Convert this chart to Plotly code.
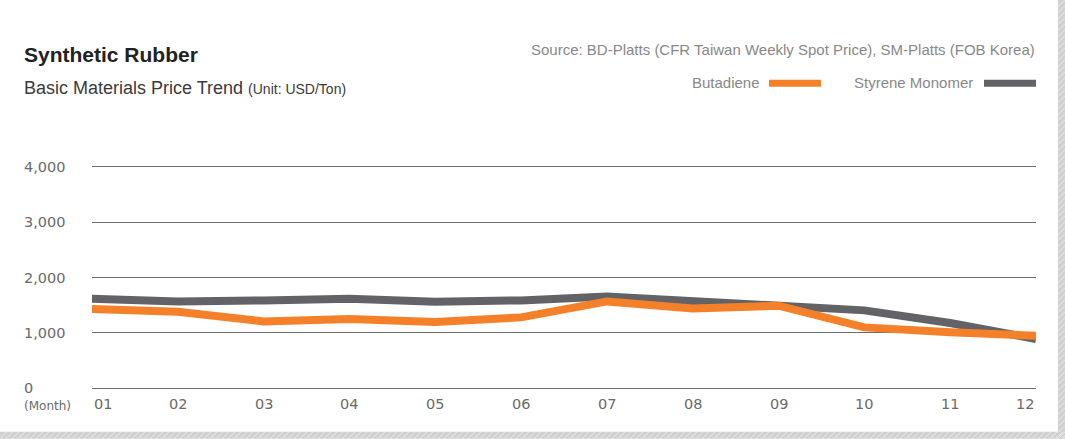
import plotly.graph_objects as go

# data (USD/Ton)
months = ['01', '02', '03', '04', '05', '06', '07', '08', '09', '10', '11', '12']
butadiene = [1430, 1381, 1205, 1249, 1195, 1278, 1567, 1441, 1490, 1097, 1007, 947]
styrene = [1616, 1567, 1585, 1616, 1562, 1585, 1658, 1567, 1477, 1405, 1176, 887]
y_ticks = [0, 1000, 2000, 3000, 4000]
y_tick_text = ['0', '1,000', '2,000', '3,000', '4,000']

W, H = 1065, 439
L, R, T, B = 92, 1036, 167.3, 388.3  # plot area in pixels

ORANGE = '#f4812a'
GREY = '#626366'
TXT = '#6a6a6a'
FONT = 'Liberation Sans'
NUMFONT = 'DejaVu Sans'


def px(x):
    return (x - L) / (R - L)


def py(y):
    return (B - y) / (B - T)


fig = go.Figure()

# Styrene under, Butadiene on top
fig.add_trace(go.Scatter(x=list(range(len(months))), y=styrene, mode='lines', name='Styrene Monomer',
                         line=dict(color=GREY, width=8), showlegend=False))
fig.add_trace(go.Scatter(x=list(range(len(months))), y=butadiene, mode='lines', name='Butadiene',
                         line=dict(color=ORANGE, width=8), showlegend=False))

annotations = []
# title block
annotations.append(dict(text='<b>Synthetic Rubber</b>', x=px(22), y=py(55), xanchor='left', yanchor='middle',
                        font=dict(size=21, color='#222222', family=FONT)))
annotations.append(dict(text='Basic Materials Price Trend <span style="font-size:14px">(Unit: USD/Ton)</span>',
                        x=px(22), y=py(88), xanchor='left', yanchor='middle',
                        font=dict(size=18, color='#3a3a3a', family=FONT)))
annotations.append(dict(text='Source: BD-Platts (CFR Taiwan Weekly Spot Price), SM-Platts (FOB Korea)',
                        x=px(1037), y=py(50), xanchor='right', yanchor='middle',
                        font=dict(size=15, color='#888888', family=FONT)))
# legend (text left of swatch)
annotations.append(dict(text='Butadiene', x=px(762), y=py(83), xanchor='right', yanchor='middle',
                        font=dict(size=15, color='#888888', family=FONT)))
annotations.append(dict(text='Styrene Monomer', x=px(975), y=py(83), xanchor='right', yanchor='middle',
                        font=dict(size=15, color='#888888', family=FONT)))

# y tick labels, left aligned
for v, t in zip(y_ticks, y_tick_text):
    annotations.append(dict(text=t, x=px(22), y=v, yref='y', xanchor='left', yanchor='middle',
                            font=dict(size=14.5, color=TXT, family=NUMFONT)))
annotations.append(dict(text='(Month)', x=px(22), y=py(406), xanchor='left', yanchor='middle',
                        font=dict(size=12, color=TXT, family=NUMFONT)))

# month labels: first left aligned, last right aligned
for i, m in enumerate(months):
    anchor = 'left' if i == 0 else ('right' if i == len(months) - 1 else 'center')
    annotations.append(dict(text=m, x=i, xref='x', y=py(404), xanchor=anchor, yanchor='middle',
                            font=dict(size=14.5, color=TXT, family=NUMFONT)))

for a in annotations:
    a.setdefault('xref', 'paper')
    a.setdefault('yref', 'paper')
    a['showarrow'] = False

shapes = [
    dict(type='rect', xref='paper', yref='paper', x0=px(769), x1=px(821), y0=py(80), y1=py(87),
         fillcolor=ORANGE, line=dict(width=0)),
    dict(type='rect', xref='paper', yref='paper', x0=px(984), x1=px(1036), y0=py(80), y1=py(87),
         fillcolor=GREY, line=dict(width=0)),
    # hatched frame on right and bottom
    dict(type='rect', xref='paper', yref='paper', x0=px(1058), x1=px(W), y0=py(0), y1=py(H),
         fillcolor='#d0d0d0', line=dict(width=0), layer='below'),
    dict(type='rect', xref='paper', yref='paper', x0=px(0), x1=px(W), y0=py(432), y1=py(H),
         fillcolor='#d0d0d0', line=dict(width=0), layer='below'),
]
for x in range(0, W + 8, 6):
    shapes.append(dict(type='line', xref='paper', yref='paper', x0=px(x), y0=py(H), x1=px(x + 7), y1=py(432),
                       line=dict(color='#ececec', width=1)))
for y in range(0, H, 6):
    shapes.append(dict(type='line', xref='paper', yref='paper', x0=px(1058), y0=py(y + 7), x1=px(W), y1=py(y),
                       line=dict(color='#ececec', width=1)))

fig.update_layout(
    width=W, height=H,
    margin=dict(l=L, r=W - R, t=T, b=H - B, pad=0),
    paper_bgcolor='white', plot_bgcolor='white',
    xaxis=dict(range=[0, len(months) - 1], showticklabels=False, showgrid=False, zeroline=False,
               showline=True, mirror=True, linecolor='#6e6e6e', linewidth=1, fixedrange=True),
    yaxis=dict(range=[0, 4000], tickvals=y_ticks, showticklabels=False, showgrid=True,
               gridcolor='#6e6e6e', gridwidth=1, zeroline=False, fixedrange=True),
    annotations=annotations,
    shapes=shapes,
    showlegend=False,
)

# drop the default 8px body margin so the figure fills the window exactly
fig.write_html("out.html", config={'displayModeBar': False},
               post_script="document.body.style.margin='0';document.body.style.overflow='hidden';")
